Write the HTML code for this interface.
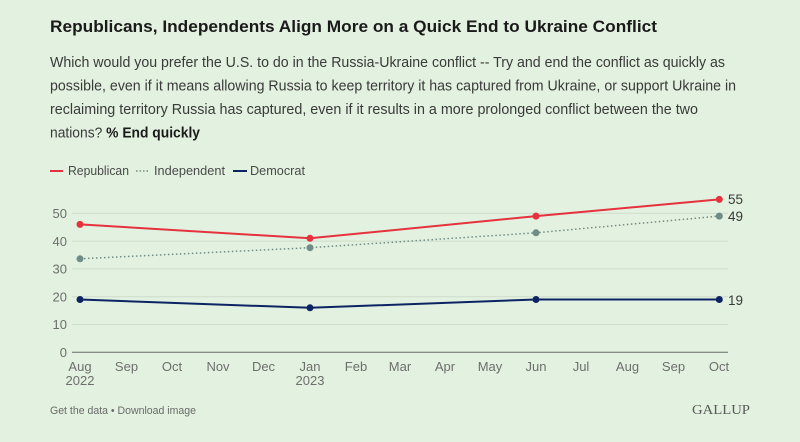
<!DOCTYPE html>
<html><head><meta charset="utf-8"><style>
html,body{margin:0;padding:0;background:#e3f1e0;}
svg{display:block;font-family:"Liberation Sans",Arial,sans-serif;}
</style></head><body>
<svg width="800" height="442" viewBox="0 0 800 442" xmlns="http://www.w3.org/2000/svg">
<rect width="800" height="442" fill="#e3f1e0"/>
<text x="50" y="32" font-size="17" font-weight="bold" fill="#1a1a1a" textLength="607" lengthAdjust="spacingAndGlyphs">Republicans, Independents Align More on a Quick End to Ukraine Conflict</text>
<g font-size="14.5" fill="#3a3a3a">
<text x="50" y="67" textLength="675" lengthAdjust="spacingAndGlyphs">Which would you prefer the U.S. to do in the Russia-Ukraine conflict -- Try and end the conflict as quickly as</text>
<text x="50" y="90.5" textLength="686" lengthAdjust="spacingAndGlyphs">possible, even if it means allowing Russia to keep territory it has captured from Ukraine, or support Ukraine in</text>
<text x="50" y="114" textLength="648" lengthAdjust="spacingAndGlyphs">reclaiming territory Russia has captured, even if it results in a more prolonged conflict between the two</text>
<text x="50" y="137.5" textLength="150" lengthAdjust="spacingAndGlyphs">nations? <tspan font-weight="bold" fill="#1a1a1a">% End quickly</tspan></text>
</g>
<g font-size="13" fill="#4a4a4a">
<line x1="50" y1="171" x2="63" y2="171" stroke="#e5323e" stroke-width="2"/>
<text x="68" y="175" textLength="61" lengthAdjust="spacingAndGlyphs">Republican</text>
<line x1="136" y1="171" x2="150" y2="171" stroke="#6f8d86" stroke-width="1.5" stroke-dasharray="1.5,2"/>
<text x="154" y="175" textLength="71" lengthAdjust="spacingAndGlyphs">Independent</text>
<line x1="233" y1="171" x2="247" y2="171" stroke="#0d2463" stroke-width="2"/>
<text x="250" y="175" textLength="55" lengthAdjust="spacingAndGlyphs">Democrat</text>
</g>
<g stroke="#cfdccc" stroke-width="1">
<line x1="72" y1="213.3" x2="728" y2="213.3"/>
<line x1="72" y1="241.1" x2="728" y2="241.1"/>
<line x1="72" y1="268.9" x2="728" y2="268.9"/>
<line x1="72" y1="296.7" x2="728" y2="296.7"/>
<line x1="72" y1="324.5" x2="728" y2="324.5"/>
</g>
<line x1="72" y1="352.3" x2="728" y2="352.3" stroke="#6b6b6b" stroke-width="1"/>
<g font-size="13" fill="#6e6e6e" text-anchor="end">
<text x="67" y="218">50</text>
<text x="67" y="245.8">40</text>
<text x="67" y="273.6">30</text>
<text x="67" y="301.4">20</text>
<text x="67" y="329.2">10</text>
<text x="67" y="357">0</text>
</g>
<g font-size="13" fill="#6e6e6e" text-anchor="middle">
<text x="80" y="371">Aug</text><text x="80" y="385">2022</text>
<text x="126.5" y="371">Sep</text>
<text x="172" y="371">Oct</text>
<text x="218" y="371">Nov</text>
<text x="263.5" y="371">Dec</text>
<text x="310" y="371">Jan</text><text x="310" y="385">2023</text>
<text x="356" y="371">Feb</text>
<text x="400" y="371">Mar</text>
<text x="445" y="371">Apr</text>
<text x="490" y="371">May</text>
<text x="536" y="371">Jun</text>
<text x="581" y="371">Jul</text>
<text x="627.5" y="371">Aug</text>
<text x="673.5" y="371">Sep</text>
<text x="719" y="371">Oct</text>
</g>
<polyline points="80,258.8 310,247.7 536,232.8 719.3,216.1" fill="none" stroke="#6f8d86" stroke-width="1.5" stroke-dasharray="1.5,2.5"/>
<polyline points="80,224.4 310,238.3 536,216.1 719.3,199.4" fill="none" stroke="#e5323e" stroke-width="2"/>
<polyline points="80,299.5 310,307.8 536,299.5 719.3,299.5" fill="none" stroke="#0d2463" stroke-width="2"/>
<g fill="#6f8d86">
<circle cx="80" cy="258.8" r="3.5"/><circle cx="310" cy="247.7" r="3.5"/><circle cx="536" cy="232.8" r="3.5"/><circle cx="719.3" cy="216.1" r="3.5"/>
</g>
<g fill="#e5323e">
<circle cx="80" cy="224.4" r="3.5"/><circle cx="310" cy="238.3" r="3.5"/><circle cx="536" cy="216.1" r="3.5"/><circle cx="719.3" cy="199.4" r="3.5"/>
</g>
<g fill="#0d2463">
<circle cx="80" cy="299.5" r="3.5"/><circle cx="310" cy="307.8" r="3.5"/><circle cx="536" cy="299.5" r="3.5"/><circle cx="719.3" cy="299.5" r="3.5"/>
</g>
<g font-size="13.5" fill="#3a3a3a">
<text x="728" y="204">55</text>
<text x="728" y="221">49</text>
<text x="728" y="305">19</text>
</g>
<text x="50" y="414" font-size="11" fill="#6a6a6a" textLength="146" lengthAdjust="spacingAndGlyphs">Get the data • Download image</text>
<text x="692" y="414" font-size="14" fill="#5a5a5a" font-family="Liberation Serif,serif" textLength="58" lengthAdjust="spacingAndGlyphs">GALLUP</text>
</svg>
</body></html>
